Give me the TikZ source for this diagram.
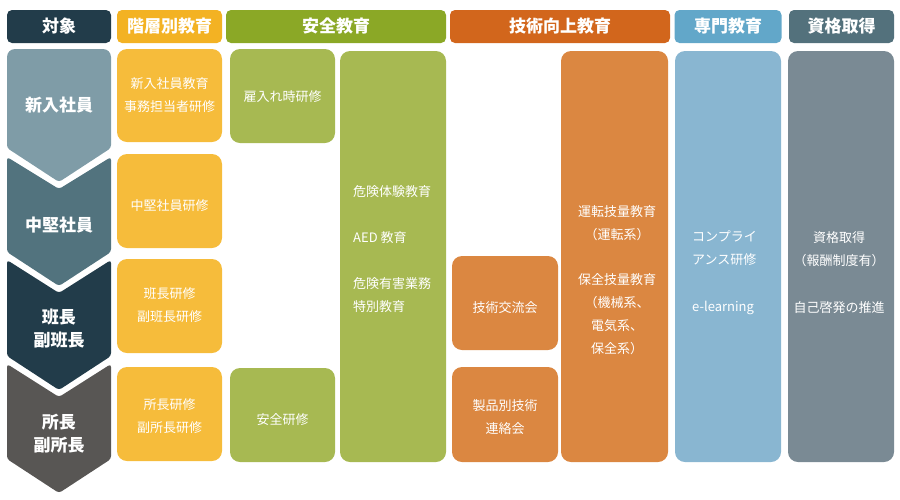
\documentclass[tikz,border=0pt]{standalone}
\usepackage{fontspec}
\setmainfont{Noto Sans CJK JP}
\definecolor{headdark}{HTML}{223C4A}
\definecolor{headkaiso}{HTML}{F3B223}
\definecolor{headanzen}{HTML}{8BA826}
\definecolor{headgijutsu}{HTML}{D2661C}
\definecolor{headsenmon}{HTML}{62A7C9}
\definecolor{headshikaku}{HTML}{53717C}
\definecolor{kaiso}{HTML}{F6BC3B}
\definecolor{anzen}{HTML}{A7B952}
\definecolor{gijutsu}{HTML}{DB8741}
\definecolor{senmon}{HTML}{89B6D1}
\definecolor{shikaku}{HTML}{7A8A94}
\definecolor{chevA}{HTML}{7F9CA7}
\definecolor{chevB}{HTML}{52737E}
\definecolor{chevC}{HTML}{223C4A}
\definecolor{chevD}{HTML}{585654}
\tikzset{
  head/.style={rounded corners=5pt, text=white, inner sep=0pt, minimum height=33pt,
    font=\bfseries\fontsize{17}{20}\selectfont},
  card/.style={rounded corners=10pt, inner sep=0pt},
  cardtext/.style={text=white, inner sep=0pt, align=center, font=\fontsize{13}{23}\selectfont},
  chevlabel/.style={text=white, inner sep=0pt, align=center,
    font=\bfseries\fontsize{17}{23}\selectfont},
}
\begin{document}
\begin{tikzpicture}[x=1pt, y=-1pt]
  \useasboundingbox (0,0) rectangle (900,499);

  % header row
  \node[head, fill=headdark, minimum width=104pt] (hTaisho) at (59,26.5) {対象};
  \node[head, fill=headkaiso, minimum width=105pt] (hKaiso) at (169.5,26.5) {階層別教育};
  \node[head, fill=headanzen, minimum width=220pt] (hAnzen) at (336,26.5) {安全教育};
  \node[head, fill=headgijutsu, minimum width=220pt] (hGijutsu) at (560,26.5) {技術向上教育};
  \node[head, fill=headsenmon, minimum width=107pt] (hSenmon) at (728,26.5) {専門教育};
  \node[head, fill=headshikaku, minimum width=105pt] (hShikaku) at (841.5,26.5) {資格取得};

  % target chevrons
  \fill[chevA] [rounded corners=8pt] (7,148) -- (7,49) -- (111,49) [rounded corners=3pt] -- (111,148) -- (59,182) -- cycle;
  \fill[chevB, rounded corners=3pt] (7,157) -- (59,189) -- (111,157) -- (111,252) -- (59,286) -- (7,252) -- cycle;
  \fill[chevC, rounded corners=3pt] (7,260) -- (59,293) -- (111,260) -- (111,356) -- (59,390) -- (7,356) -- cycle;
  \fill[chevD, rounded corners=3pt] (7,364) -- (59,397) -- (111,364) -- (111,459) -- (59,493) -- (7,459) -- cycle;
  \node[chevlabel] (tShinnyu) at (59,105) {新入社員};
  \node[chevlabel] (tChuken) at (59,225) {中堅社員};
  \node[chevlabel] (tHancho) at (59,329) {班長\\副班長};
  \node[chevlabel] (tShocho) at (59,434) {所長\\副所長};

  % 階層別教育
  \node[card, fill=kaiso, minimum width=105pt, minimum height=93pt] (kShinnyu) at (169.5,95.5) {};
  \node[card, fill=kaiso, minimum width=105pt, minimum height=94pt] (kChuken) at (169.5,201) {};
  \node[card, fill=kaiso, minimum width=105pt, minimum height=94pt] (kHancho) at (169.5,306) {};
  \node[card, fill=kaiso, minimum width=105pt, minimum height=94pt] (kShocho) at (169.5,414) {};
  \node[cardtext] (kShinnyuText) at (169.5,95) {新入社員教育\\事務担当者研修};
  \node[cardtext] (kChukenText) at (169.5,206) {中堅社員研修};
  \node[cardtext] (kHanchoText) at (169.5,305.5) {班長研修\\副班長研修};
  \node[cardtext] (kShochoText) at (169.5,416.5) {所長研修\\副所長研修};

  % 安全教育
  \node[card, fill=anzen, minimum width=105pt, minimum height=94pt] (aYatoiire) at (282.5,96) {};
  \node[card, fill=anzen, minimum width=105pt, minimum height=94pt] (aAnzen) at (282.5,415) {};
  \node[card, fill=anzen, minimum width=106pt, minimum height=411pt] (aKiken) at (393,256.5) {};
  \node[cardtext] (aYatoiireText) at (282.5,97) {雇入れ時研修};
  \node[cardtext] (aAnzenText) at (282.5,420) {安全研修};
  \node[cardtext, align=left, anchor=west] (aKikenText) at (353,249) {危険体験教育\\[23pt]AED 教育\\[23pt]危険有害業務\\特別教育};

  % 技術向上教育
  \node[card, fill=gijutsu, minimum width=106pt, minimum height=94pt] (gKoryu) at (505,303) {};
  \node[card, fill=gijutsu, minimum width=106pt, minimum height=95pt] (gSeihin) at (505,414.5) {};
  \node[card, fill=gijutsu, minimum width=107pt, minimum height=411pt] (gGiryo) at (614.5,256.5) {};
  \node[cardtext] (gKoryuText) at (505,308) {技術交流会};
  \node[cardtext] (gSeihinText) at (505,417.5) {製品別技術\\連絡会};
  \node[cardtext] (gGiryoText) at (617,280) {運転技量教育\\（運転系）\\[22pt]保全技量教育\\（機械系、\\電気系、\\保全系）};

  % 専門教育
  \node[card, fill=senmon, minimum width=106pt, minimum height=411pt] (sSenmon) at (728,256.5) {};
  \node[cardtext, align=left, anchor=west] (sSenmonText) at (692,272.5) {コンプライ\\アンス研修\\[24pt]e-learning};

  % 資格取得
  \node[card, fill=shikaku, minimum width=106pt, minimum height=411pt] (qShikaku) at (841,256.5) {};
  \node[cardtext] (qShikakuText) at (839,272.5) {資格取得\\（報酬制度有）\\[24pt]自己啓発の推進};
\end{tikzpicture}
\end{document}
